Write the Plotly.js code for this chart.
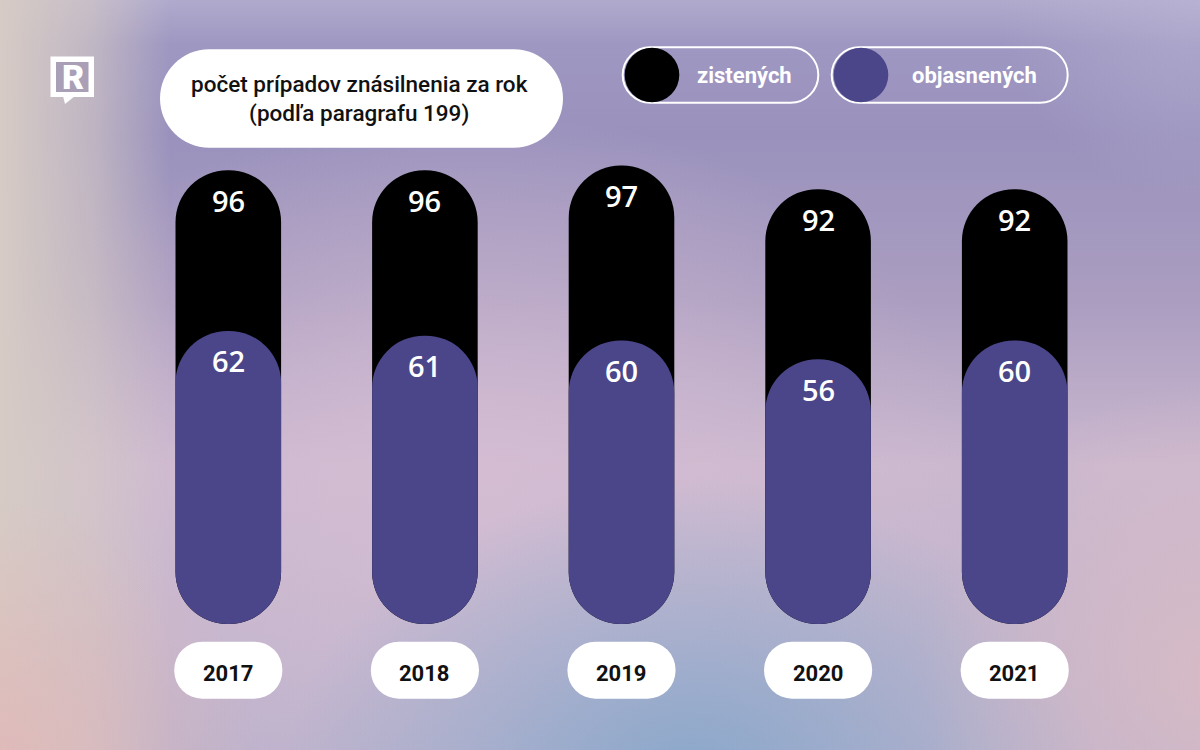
<!DOCTYPE html>
<html>
<head>
<meta charset="utf-8">
<script src="https://cdn.plot.ly/plotly-3.0.1.min.js"></script>
<style>
  html, body { margin: 0; padding: 0; background: #a89ec4; }
  #chart { width: 1200px; height: 750px; }
</style>
</head>
<body>
<div id="chart"></div>
<script>
// ---------- data ----------
const years = ['2017', '2018', '2019', '2020', '2021'];
const zistenych = [96, 96, 97, 92, 92];
const objasnenych = [62, 61, 60, 56, 60];
const seriesNames = ['zistených', 'objasnených'];
const titleLines = ['počet prípadov znásilnenia za rok', '(podľa paragrafu 199)'];

// ---------- style constants ----------
const BLACK = '#000000';
const PURPLE = '#4a4689';
const BAR_W = 0.537;
const PILL_W = 0.55;
const PILL_C = -9.77;    // centre of the year pill (axis units)
const PILL_H = 6.03;     // half height of the year pill (axis units)

// layout geometry
const W = 1200, H = 750;
const ML = 130, MR = 87, MT = 150, MB = 45;
const PW = W - ML - MR, PH = H - MT - MB;
const px = (x) => (x - ML) / PW;
const py = (y) => (H - MB - y) / PH;

// ---------- background image ----------
function makeBackground() {
  const cv = document.createElement('canvas');
  cv.width = W; cv.height = H;
  const c = cv.getContext('2d');
  let g = c.createLinearGradient(0, 0, 0, H);
  g.addColorStop(0, '#b0aacd');
  g.addColorStop(0.06, '#9e97c1');
  g.addColorStop(0.18, '#9a92bd');
  g.addColorStop(0.40, '#aa9dc0');
  g.addColorStop(0.62, '#cbb8cf');
  g.addColorStop(0.82, '#c3b5cd');
  g.addColorStop(1, '#bcb2cc');
  c.fillStyle = g; c.fillRect(0, 0, W, H);

  function radial(x, y, r, rgb, a, sx) {
    c.save();
    c.translate(x, y);
    c.scale(sx || 1, 1);
    const rg = c.createRadialGradient(0, 0, 0, 0, 0, r);
    rg.addColorStop(0, 'rgba(' + rgb + ',' + a + ')');
    rg.addColorStop(1, 'rgba(' + rgb + ',0)');
    c.fillStyle = rg;
    c.fillRect(-r, -r, 2 * r, 2 * r);
    c.restore();
  }
  radial(470, 470, 360, '214,190,212', 0.8, 1.4);
  radial(690, 780, 300, '138,168,203', 1.0, 1.35);
  let lg = c.createLinearGradient(0, 0, 170, 0);
  lg.addColorStop(0, 'rgba(214,203,197,1)');
  lg.addColorStop(0.55, 'rgba(214,203,197,0.6)');
  lg.addColorStop(1, 'rgba(214,203,197,0)');
  c.fillStyle = lg; c.fillRect(0, 0, 170, H);
  radial(0, 760, 260, '224,184,184', 0.9, 1);
  radial(1220, 680, 300, '219,188,196', 0.85, 1);
  radial(1200, 0, 200, '190,186,216', 0.5, 1);
  return cv.toDataURL('image/jpeg', 0.93);
}

// ---------- shape helpers ----------
function pillPath(cx, cy, hw, hh, r) {
  const k = 0.5523 * r;
  const P = (x, y) => px(x).toFixed(6) + ',' + py(y).toFixed(6);
  const L = cx - hw, R = cx + hw, T = cy - hh, B = cy + hh;
  return 'M' + P(L + r, T) +
    ' L' + P(R - r, T) +
    ' C' + P(R - r + k, T) + ' ' + P(R, T + r - k) + ' ' + P(R, T + r) +
    ' L' + P(R, B - r) +
    ' C' + P(R, B - r + k) + ' ' + P(R - r + k, B) + ' ' + P(R - r, B) +
    ' L' + P(L + r, B) +
    ' C' + P(L + r - k, B) + ' ' + P(L, B - r + k) + ' ' + P(L, B - r) +
    ' L' + P(L, T + r) +
    ' C' + P(L, T + r - k) + ' ' + P(L + r - k, T) + ' ' + P(L + r, T) + ' Z';
}
function circleShape(cx, cy, r, color) {
  return { type: 'circle', xref: 'paper', yref: 'paper',
    x0: px(cx - r), x1: px(cx + r), y0: py(cy + r), y1: py(cy - r),
    fillcolor: color, line: { width: 0 }, layer: 'above' };
}

// ---------- traces ----------
const blackBars = {
  type: 'bar', x: years, y: zistenych, base: years.map(() => 0),
  width: BAR_W, name: seriesNames[0],
  marker: { color: BLACK, cornerradius: '50%', line: { width: 0 } },
  hoverinfo: 'skip', showlegend: false
};
const purpleBars = {
  type: 'bar', x: years, y: objasnenych, base: years.map(() => 0),
  width: BAR_W, name: seriesNames[1],
  marker: { color: PURPLE, cornerradius: '50%', line: { width: 0 } },
  hoverinfo: 'skip', showlegend: false
};
const yearPills = {
  type: 'bar', x: years, y: years.map(() => 2 * PILL_H), base: years.map(() => PILL_C - PILL_H),
  width: PILL_W, marker: { color: '#ffffff', cornerradius: 28, line: { width: 0 } },
  hoverinfo: 'skip', showlegend: false
};

// ---------- annotations ----------
const annotations = [];
const valueFont = { family: 'Open Sans, Noto Sans, sans-serif', size: 29, color: '#ffffff', weight: 600 };
const yearFont = { family: 'Roboto, sans-serif', size: 22, color: '#111111', weight: 700 };
years.forEach((yr, i) => {
  annotations.push({ x: i, y: zistenych[i], xref: 'x', yref: 'y', text: String(zistenych[i]),
    showarrow: false, xanchor: 'center', yanchor: 'middle', yshift: -30, font: valueFont });
  annotations.push({ x: i, y: objasnenych[i], xref: 'x', yref: 'y', text: String(objasnenych[i]),
    showarrow: false, xanchor: 'center', yanchor: 'middle', yshift: -30, font: valueFont });
  annotations.push({ x: i, y: PILL_C, xref: 'x', yref: 'y', text: yr, showarrow: false,
    xanchor: 'center', yanchor: 'middle', yshift: -3, font: yearFont });
});
annotations.push({ xref: 'paper', yref: 'paper', x: px(359), y: py(99), xanchor: 'center', yanchor: 'middle',
  text: titleLines.join('<br>'), showarrow: false, align: 'center',
  font: { family: 'Roboto, sans-serif', size: 22.5, color: '#111111', weight: 500 } });
annotations.push({ xref: 'paper', yref: 'paper', x: px(744.5), y: py(75.5), xanchor: 'center', yanchor: 'middle',
  text: seriesNames[0], showarrow: false,
  font: { family: 'Roboto, sans-serif', size: 22, color: '#ffffff', weight: 700 } });
annotations.push({ xref: 'paper', yref: 'paper', x: px(974.7), y: py(75.5), xanchor: 'center', yanchor: 'middle',
  text: seriesNames[1], showarrow: false,
  font: { family: 'Roboto, sans-serif', size: 22, color: '#ffffff', weight: 700 } });
annotations.push({ xref: 'paper', yref: 'paper', x: px(72.5), y: py(77), xanchor: 'center', yanchor: 'middle',
  text: 'R', showarrow: false,
  font: { family: 'Roboto, sans-serif', size: 34, color: '#ffffff', weight: 900 } });

// ---------- shapes ----------
const shapes = [
  { type: 'path', xref: 'paper', yref: 'paper', path: pillPath(361.5, 98.5, 201.5, 49.2, 49.2),
    fillcolor: '#ffffff', line: { width: 0 }, layer: 'above' },
  { type: 'path', xref: 'paper', yref: 'paper', path: pillPath(720.5, 75, 97.8, 27.7, 27.7),
    fillcolor: 'rgba(0,0,0,0)', line: { color: '#ffffff', width: 2 }, layer: 'above' },
  { type: 'path', xref: 'paper', yref: 'paper', path: pillPath(949.7, 75, 118, 27.7, 27.7),
    fillcolor: 'rgba(0,0,0,0)', line: { color: '#ffffff', width: 2 }, layer: 'above' },
  circleShape(652, 75, 27.3, BLACK),
  circleShape(861, 75, 27.3, PURPLE),
  { type: 'rect', xref: 'paper', yref: 'paper', x0: px(50.5), x1: px(94), y0: py(97), y1: py(56.5),
    fillcolor: '#ffffff', line: { width: 0 }, layer: 'above' },
  { type: 'rect', xref: 'paper', yref: 'paper', x0: px(56), x1: px(88.5), y0: py(92), y1: py(62),
    fillcolor: '#a99fb6', line: { width: 0 }, layer: 'above' },
  { type: 'path', xref: 'paper', yref: 'paper',
    path: 'M' + px(63) + ',' + py(96) + ' L' + px(75) + ',' + py(96) + ' L' + px(65) + ',' + py(104) + ' Z',
    fillcolor: '#ffffff', line: { width: 0 }, layer: 'above' }
];

const hiddenAxis = { showgrid: false, zeroline: false, showline: false, showticklabels: false,
  ticks: '', fixedrange: true };

const layout = {
  width: W, height: H,
  margin: { l: ML, r: MR, t: MT, b: MB, pad: 0, autoexpand: false },
  paper_bgcolor: '#a89ec4', plot_bgcolor: 'rgba(0,0,0,0)',
  barmode: 'overlay',
  showlegend: false,
  xaxis: Object.assign({ type: 'category', range: [-0.5, 4.5] }, hiddenAxis),
  yaxis: Object.assign({ type: 'linear', range: [-17.14, 100.28] }, hiddenAxis),
  images: [{ source: makeBackground(), xref: 'paper', yref: 'paper',
    x: px(0), y: py(0), sizex: W / PW, sizey: H / PH, xanchor: 'left', yanchor: 'top',
    sizing: 'stretch', layer: 'below' }],
  shapes: shapes,
  annotations: annotations,
  hovermode: false
};

Plotly.newPlot('chart', [blackBars, yearPills, purpleBars], layout,
  { displayModeBar: false, staticPlot: true });
</script>
</body>
</html>
